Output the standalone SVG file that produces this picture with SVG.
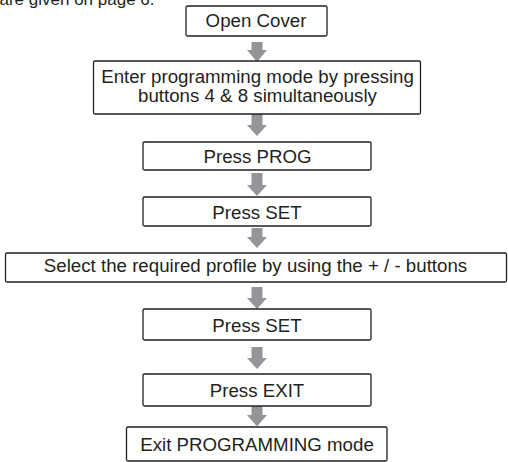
<svg xmlns="http://www.w3.org/2000/svg" width="508" height="462" viewBox="0 0 508 462">
<style>
.box{fill:#fff;stroke:#231f20;stroke-width:1.3}
.t{font-family:"Liberation Sans",Arial,sans-serif;font-size:18.7px;fill:#231f20;text-anchor:middle}
.arr{fill:#939598;stroke:none}
</style>
<rect width="508" height="462" fill="#fff"/>
<text x="-0.5" y="4.5" class="t" style="text-anchor:start;font-size:17px">are given on page 6.</text>
<g id="connectors">
<polygon class="arr" points="251.5,42 262.5,42 262.5,50 267,50 257,62 247,50 251.5,50"/>
<polygon class="arr" points="251.5,114 262.5,114 262.5,125 267,125 257,136 247,125 251.5,125"/>
<polygon class="arr" points="251.5,173 262.5,173 262.5,185 267,185 257,196 247,185 251.5,185"/>
<polygon class="arr" points="251.5,228 262.5,228 262.5,237 267,237 257,248 247,237 251.5,237"/>
<polygon class="arr" points="251.5,287 262.5,287 262.5,298 267,298 257,309 247,298 251.5,298"/>
<polygon class="arr" points="251.5,347 262.5,347 262.5,358 267,358 257,369 247,358 251.5,358"/>
<polygon class="arr" points="251.5,406 262.5,406 262.5,415 267,415 257,426.5 247,415 251.5,415"/>
</g>
<g id="n1"><rect class="box" x="186" y="6" width="141" height="30" rx="1.5"/><text class="t" x="256" y="26.7">Open Cover</text></g>
<g id="n2"><rect class="box" x="93.5" y="61" width="327" height="53" rx="1.5"/><text class="t" x="257.5" y="82.7">Enter programming mode by pressing</text><text class="t" x="257.5" y="101.7">buttons 4 &amp; 8 simultaneously</text></g>
<g id="n3"><rect class="box" x="143" y="142" width="228" height="28" rx="1.5"/><text class="t" x="257.5" y="162.7">Press PROG</text></g>
<g id="n4"><rect class="box" x="143" y="197" width="228" height="29" rx="1.5"/><text class="t" x="257" y="218.7">Press SET</text></g>
<g id="n5"><rect class="box" x="5.5" y="253" width="501" height="29" rx="1.5"/><text class="t" x="255.5" y="271.7">Select the required profile by using the + / - buttons</text></g>
<g id="n6"><rect class="box" x="143" y="309" width="228" height="31" rx="1.5"/><text class="t" x="257" y="331.7">Press SET</text></g>
<g id="n7"><rect class="box" x="143" y="374" width="228" height="32" rx="1.5"/><text class="t" x="257" y="397">Press EXIT</text></g>
<g id="n8"><rect class="box" x="126.5" y="427" width="260.5" height="34" rx="1.5"/><text class="t" x="257" y="451">Exit PROGRAMMING mode</text></g>
</svg>
